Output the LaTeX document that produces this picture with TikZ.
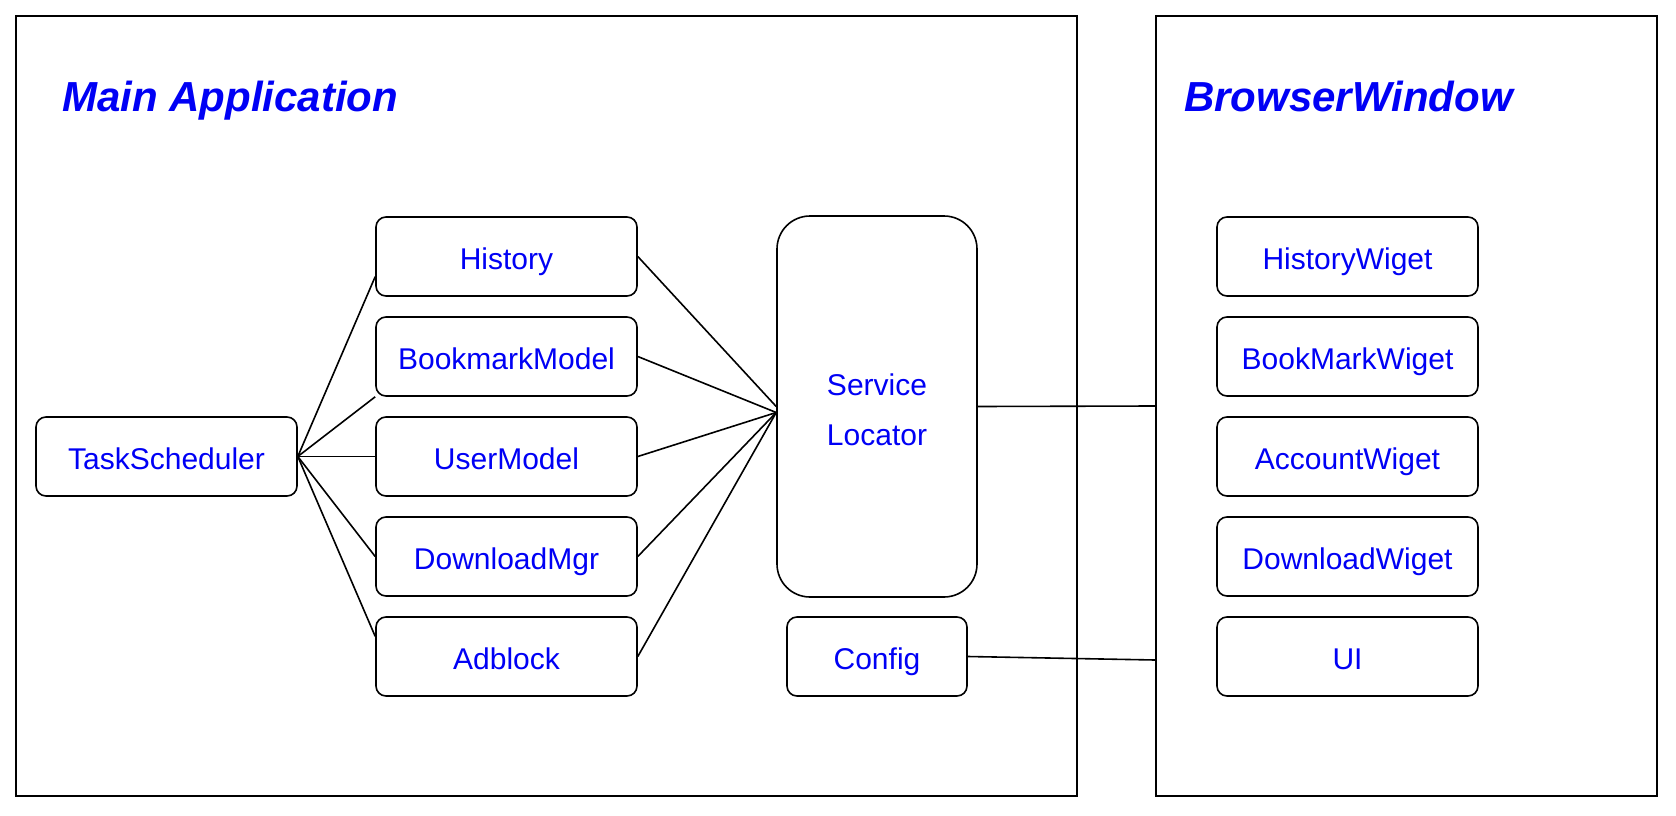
\documentclass[tikz,border=0pt]{standalone}
\usepackage{fontspec}
\setmainfont{Liberation Sans}
\usetikzlibrary{calc}
\definecolor{txtblue}{RGB}{0,0,245}
\begin{document}
\begin{tikzpicture}[x=1pt,y=-1pt,
  box/.style={draw, line width=1.6pt, rounded corners=10pt, minimum width=261pt, minimum height=79pt, inner sep=0pt, font=\fontsize{30}{36}\selectfont, text=txtblue, text height=26.5pt, text depth=0pt},
  plainbox/.style={draw, line width=1.6pt, inner sep=0pt},
  sltext/.style={inner sep=0pt, align=center, font=\fontsize{30}{50}\selectfont, text=txtblue},
  frame/.style={draw, line width=2pt, inner sep=0pt},
  title/.style={anchor=base west, inner sep=0pt, font=\fontsize{42}{50}\selectfont\bfseries\itshape, text=txtblue},
  link/.style={line width=1.6pt}]
\useasboundingbox[fill=white] (0,0) rectangle (1676,816);

% frames
\node[frame, minimum width=1061pt, minimum height=780pt] (main) at (546.5,406) {};
\node[frame, minimum width=501pt, minimum height=780pt] (browser) at (1406.5,406) {};
\node[title] (maintitle) at (62,111) {Main Application};
\node[title] (browsertitle) at (1184,111) {BrowserWindow};

% main application
\node[box] (TS) at (166.5,456.5) {TaskScheduler};
\node[box] (H) at (506.5,256.5) {History};
\node[box] (B) at (506.5,356.5) {BookmarkModel};
\node[box] (U) at (506.5,456.5) {UserModel};
\node[box] (D) at (506.5,556.5) {DownloadMgr};
\node[box] (A) at (506.5,656.5) {Adblock};
\node[plainbox, minimum width=200pt, minimum height=381pt, rounded corners=33pt] (SL) at (877,406.5) {};
\node[sltext] (SLtext) at ($(SL.center)+(0,3.5)$) {Service\\Locator};
\node[box, minimum width=180pt] (C) at (877,656.5) {Config};

% browser window
\node[box] (HW) at (1347.5,256.5) {HistoryWiget};
\node[box] (BW) at (1347.5,356.5) {BookMarkWiget};
\node[box] (AW) at (1347.5,456.5) {AccountWiget};
\node[box] (DW) at (1347.5,556.5) {DownloadWiget};
\node[box] (UI) at (1347.5,656.5) {UI};

% connectors from TaskScheduler
\draw[link] (TS.east) -- ($(H.west)!0.5!(H.south west)$);
\draw[link] (TS.east) -- (B.south west);
\draw[link] (TS.east) -- (U.west);
\draw[link] (TS.east) -- (D.west);
\draw[link] (TS.east) -- ($(A.west)!0.5!(A.north west)$);

% connectors to Service Locator
\coordinate (hub) at ($(SL.west)+(0,6)$);
\draw[link] (H.east) -- (SL.west);
\draw[link] (B.east) -- (hub);
\draw[link] (U.east) -- (hub);
\draw[link] (D.east) -- (hub);
\draw[link] (A.east) -- (hub);

% connectors to BrowserWindow
\draw[link] (SL.east) -- (browser.west);
\coordinate (cfgin) at (browser.west |- 0,660);
\draw[link] (C.east) -- (cfgin);
\end{tikzpicture}
\end{document}
